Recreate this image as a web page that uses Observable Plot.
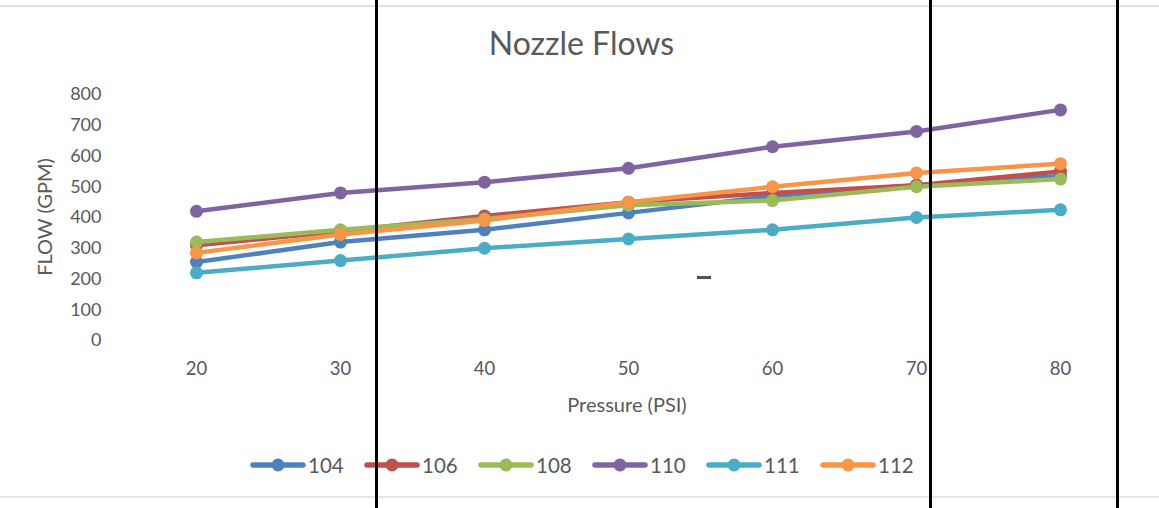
<!DOCTYPE html>
<html>
<head>
<meta charset="utf-8">
<script src="https://cdn.jsdelivr.net/npm/d3@7"></script>
<script src="https://cdn.jsdelivr.net/npm/@observablehq/plot@0.6"></script>
<style>
  html, body { margin: 0; padding: 0; background: #fff; }
  body { width: 1159px; height: 508px; overflow: hidden; position: relative; font-family: Lato, "Open Sans", sans-serif; color: #595959; }
  #title { position: absolute; left: 0; top: 23px; width: 1159px; text-align: center; font-size: 32px; padding-left: 4px; box-sizing: border-box; }
  #chart { position: absolute; left: 0; top: 75px; }
  .axlabel { position: absolute; font-size: 20px; white-space: nowrap; transform: translate(-50%, -50%); }
  #ylabel { left: 44px; top: 217px; transform: translate(-50%, -50%) rotate(-90deg); }
  #xlabel { left: 627px; top: 404px; }
  #legend { position: absolute; left: 250px; top: 453px; display: flex; }
  .item { display: flex; align-items: center; width: 114px; font-size: 20.5px; }
  .item svg { margin-right: 2px; }
  .deco { position: absolute; background: #000; }
</style>
</head>
<body>
<div id="title">Nozzle Flows</div>
<div id="chart"></div>
<div class="axlabel" id="ylabel">FLOW (GPM)</div>
<div class="axlabel" id="xlabel">Pressure (PSI)</div>
<div id="legend"></div>
<script>
const pressure = [20, 30, 40, 50, 60, 70, 80];
const seriesNames = ["104", "106", "108", "110", "111", "112"];
const n104 = [255, 320, 360, 415, 470, 505, 535];
const n106 = [310, 355, 405, 450, 480, 505, 550];
const n108 = [320, 360, 395, 440, 455, 500, 525];
const n110 = [420, 480, 515, 560, 630, 680, 750];
const n111 = [220, 260, 300, 330, 360, 400, 425];
const n112 = [285, 345, 390, 450, 500, 545, 575];
const yTicks = [0, 100, 200, 300, 400, 500, 600, 700, 800];
const colors = ["#4F81BD", "#C0504D", "#9BBB59", "#8064A2", "#4BACC6", "#F79646"];

const seriesValues = [n104, n106, n108, n110, n111, n112];
const data = [];
seriesNames.forEach((s, i) => pressure.forEach((p, j) => data.push({series: s, pressure: p, flow: seriesValues[i][j]})));

const chart = Plot.plot({
  width: 1159,
  height: 350,
  marginTop: 19,
  marginBottom: 85,
  marginLeft: 124,
  marginRight: 27,
  style: {fontFamily: "Lato, 'Open Sans', sans-serif", fontSize: "18px", color: "#595959", background: "transparent"},
  x: {type: "point", domain: pressure, padding: 0.5, label: null},
  y: {domain: [0, 800], label: null},
  color: {domain: seriesNames, range: colors},
  marks: [
    Plot.gridY(yTicks, {stroke: "#d9d9d9", strokeOpacity: 1, strokeWidth: 1.3, x1: 0, x2: 0}),
    Plot.axisY({ticks: yTicks, tickSize: 0, tickPadding: 23, label: null, fontSize: 18}),
    Plot.axisX({tickSize: 0, tickPadding: 21, label: null, fontSize: 18.5}),
    ...seriesNames.map(s => Plot.line(data.filter(d => d.series === s), {x: "pressure", y: "flow", stroke: "series", strokeWidth: 4.5})),
    ...seriesNames.map(s => Plot.dot(data.filter(d => d.series === s), {x: "pressure", y: "flow", fill: "series", r: 6.5}))
  ]
});
document.getElementById("chart").appendChild(chart);

// legend
const legend = document.getElementById("legend");
seriesNames.forEach((s, i) => {
  const item = document.createElement("div");
  item.className = "item";
  item.innerHTML = `<svg width="56" height="20"><line x1="3" x2="53" y1="10" y2="10" stroke="${colors[i]}" stroke-width="5.5" stroke-linecap="round"/><circle cx="28" cy="10" r="6.5" fill="${colors[i]}"/></svg><span>${s}</span>`;
  legend.appendChild(item);
});

// scan artifacts
function deco(l, t, w, h, c) {
  const d = document.createElement("div");
  d.className = "deco";
  Object.assign(d.style, {left: l + "px", top: t + "px", width: w + "px", height: h + "px", background: c});
  document.body.appendChild(d);
}
deco(0, 5, 1159, 2, "#e0e0e0");
deco(0, 496, 1159, 2, "#e6e6e6");
deco(375, 0, 3, 508, "#000");
deco(929, 0, 3, 508, "#000");
deco(1116, 0, 3, 508, "#000");
deco(697, 276, 14, 3, "#555");
</script>
</body>
</html>
